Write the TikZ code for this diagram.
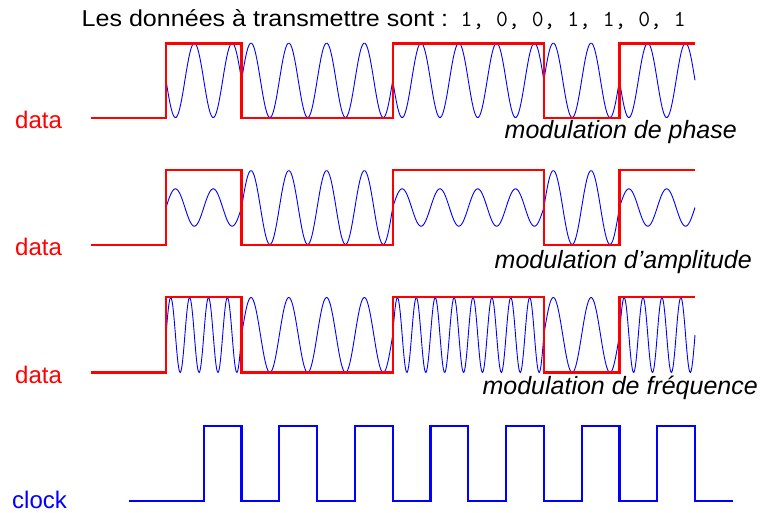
\documentclass[tikz,border=0pt]{standalone}
\usepackage{fontspec}
\setmainfont{Liberation Sans}
\newfontfamily\titlefont[FakeStretch=1.09]{Liberation Sans}
\begin{document}
\begin{tikzpicture}[x=1pt,y=-1pt,
  datal/.style={red, line width=2.2pt, line join=miter},
  wave/.style={blue, line width=0.9pt},
  clk/.style={blue, line width=2.2pt},
  lbl/.style={anchor=base west, inner sep=0pt, font=\fontsize{24}{28}\selectfont},
  modl/.style={anchor=base east, inner sep=0pt, font=\fontsize{25}{30}\selectfont\itshape}]
\useasboundingbox (0,0) rectangle (763,512);
\def\W{75.5714}
\def\K{9.52741}% 720/W
% title
\node[anchor=base west, inner sep=0pt, font=\titlefont\fontsize{23}{26}\selectfont] (title) at (81.5,26.5) {Les données à transmettre sont :};
\node[anchor=base west, inner sep=0pt, font=\ttfamily\fontsize{23}{26}\selectfont] (bits) at (460.5,26.5) {1, 0, 0, 1, 1, 0, 1};
% phase modulation wave
\foreach \s [count=\i from 0] in {1,-1,-1,1,1,-1,1}
  \draw[wave] plot[domain=0:\W, samples=61, variable=\t] ({166+\i*\W+\t},{80.3+\s*37.3*sin(\K*\t)});
% amplitude modulation wave
\foreach \a [count=\i from 0] in {18.7,37,37,18.7,18.7,37,18.7}
  \draw[wave] plot[domain=0:\W, samples=61, variable=\t] ({166+\i*\W+\t},{207.5-\a*sin(\K*\t)});
% frequency modulation wave
\foreach \c [count=\i from 0] in {2,1,1,2,2,1,2}
  \draw[wave] plot[domain=0:\W, samples=101, variable=\t] ({166+\i*\W+\t},{335-37.5*sin(\c*\K*\t)});
% data signals
\foreach \H/\L in {43.5/117.8, 170/245, 297.3/372.5}
  \draw[datal] (91,\L) -- (166,\L) -- (166,\H) -- (241.57,\H) -- (241.57,\L) -- (392.71,\L) -- (392.71,\H) -- (543.86,\H) -- (543.86,\L) -- (619.43,\L) -- (619.43,\H) -- (695,\H);
% clock
\draw[clk] (129.3,501) \foreach \k in {0,...,6} { -- ({166+(\k+0.5)*\W},501) -- ({166+(\k+0.5)*\W},425.7) -- ({166+(\k+1)*\W},425.7) -- ({166+(\k+1)*\W},501) } -- (732.8,501);
% labels
\node[lbl, red] (d1) at (15,128.3) {data};
\node[lbl, red] (d2) at (15,255.7) {data};
\node[lbl, red] (d3) at (15,383.3) {data};
\node[lbl, blue] (clock) at (12,508.3) {clock};
\node[modl] (m1) at (737,138.3) {modulation de phase};
\node[modl] (m2) at (752,268.5) {modulation d’amplitude};
\node[modl] (m3) at (758,394) {modulation de fréquence};
\end{tikzpicture}
\end{document}
